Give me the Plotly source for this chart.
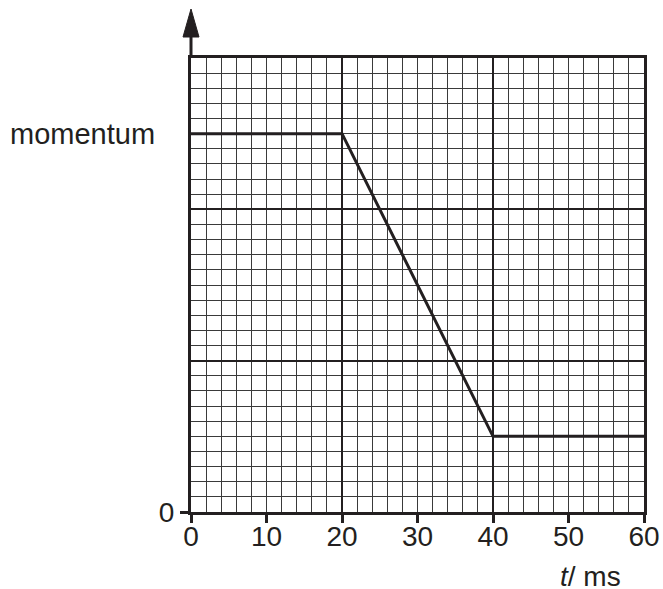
import plotly.graph_objects as go

# ---- data ----
t_ms = [0, 20, 40, 60]
momentum = [25, 25, 5, 5]
x_tick_vals = [0, 10, 20, 30, 40, 50, 60]
x_tick_text = ["0", "10", "20", "30", "40", "50", "60"]
y_tick_vals = [0]
y_tick_text = ["0"]
x_range = [0, 60]
y_range = [0, 30]

INK = "#231f20"
FONT = "Liberation Sans, Arial, Helvetica, sans-serif"

fig = go.Figure()

# invisible trace that carries the grid axes
fig.add_trace(go.Scatter(x=x_range, y=y_range, mode="markers",
                         marker=dict(opacity=0), hoverinfo="skip",
                         showlegend=False))
# momentum line on overlay axes (drawn above the grid)
fig.add_trace(go.Scatter(x=t_ms, y=momentum, mode="lines",
                         line=dict(color=INK, width=3),
                         xaxis="x2", yaxis="y2", showlegend=False,
                         cliponaxis=False, hoverinfo="skip"))

fig.update_layout(
    template="none",
    width=663, height=589, autosize=False,
    margin=dict(l=191, r=19, t=58, b=77, pad=0),
    paper_bgcolor="white", plot_bgcolor="white",
    font=dict(family=FONT, size=28, color=INK),
    showlegend=False,
    xaxis=dict(range=x_range, dtick=20, tick0=0, showticklabels=False,
               ticks="", showgrid=True, gridcolor=INK, gridwidth=2,
               minor=dict(dtick=2, showgrid=True, gridcolor="#3a3a3a",
                          gridwidth=1),
               showline=True, linecolor=INK, linewidth=2.5, mirror=True,
               zeroline=False, fixedrange=True, automargin=False),
    yaxis=dict(range=y_range, dtick=10, tick0=0, showticklabels=False,
               ticks="", showgrid=True, gridcolor=INK, gridwidth=2,
               minor=dict(dtick=1, showgrid=True, gridcolor="#3a3a3a",
                          gridwidth=1),
               showline=True, linecolor=INK, linewidth=2.5, mirror=True,
               zeroline=False, fixedrange=True, automargin=False),
    xaxis2=dict(range=x_range, overlaying="x", anchor="y2", side="bottom",
                tickmode="array", tickvals=x_tick_vals, ticktext=x_tick_text,
                ticks="outside", ticklen=10, tickwidth=3, tickcolor=INK,
                ticklabelstandoff=-11, ticklabeloverflow="allow",
                showgrid=False, zeroline=False, showline=False,
                tickfont=dict(size=28, color=INK), fixedrange=True,
                automargin=False),
    yaxis2=dict(range=y_range, overlaying="y", anchor="x2", side="left",
                tickmode="array", tickvals=y_tick_vals, ticktext=y_tick_text,
                ticks="outside", ticklen=10, tickwidth=3, tickcolor=INK,
                ticklabeloverflow="allow",
                showgrid=False, zeroline=False, showline=False,
                tickfont=dict(size=28, color=INK), fixedrange=True,
                automargin=False),
)

# y-axis arrow above plot
fig.add_shape(type="line", xref="paper", yref="paper", xsizemode="pixel",
              ysizemode="pixel", xanchor=0, yanchor=1,
              x0=0, x1=0, y0=0, y1=22, line=dict(color=INK, width=3))
fig.add_shape(type="path", xref="paper", yref="paper", xsizemode="pixel",
              ysizemode="pixel", xanchor=0, yanchor=1,
              path="M -8 21 L 8 21 L 0 49 Z", fillcolor=INK,
              line=dict(color=INK, width=1))

fig.add_annotation(text="momentum", xref="paper", yref="y", x=0, y=25,
                   xanchor="right", yanchor="middle", xshift=-34,
                   showarrow=False, font=dict(size=29, color=INK))
fig.add_annotation(text="<i>t</i>/ ms", xref="paper", yref="paper",
                   x=0.81, y=-0.143, xanchor="left", yanchor="middle",
                   showarrow=False, font=dict(size=28, color=INK))

# remove the browser's default 8px page margin so the figure fills the window
fig.write_html("out.html",
               config={"displayModeBar": False},
               post_script="document.body.style.margin='0';"
                           "document.body.style.overflow='hidden';")
